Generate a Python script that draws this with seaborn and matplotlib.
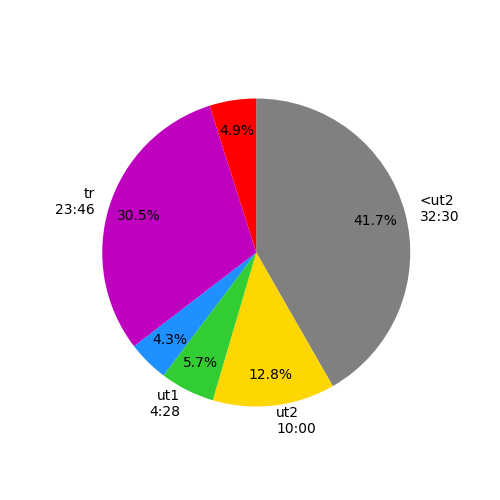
import seaborn as sns
import matplotlib
matplotlib.use("Agg")
import matplotlib.pyplot as plt

# seconds spent in each zone
zones = ["<ut2", "ut2", "ut1", "", "tr", ""]
times = ["32:30", "10:00", "4:28", "", "23:46", ""]
seconds = [1950, 600, 268, 201, 1426, 229]
colors = ["gray", "gold", "limegreen", "dodgerblue", "m", "red"]

labels = [f"{z}\n{t}" if z else "" for z, t in zip(zones, times)]

plt.figure(figsize=(5, 5), dpi=100)
plt.pie(seconds, labels=labels, colors=colors, autopct="%1.1f%%",
        startangle=90, counterclock=False, pctdistance=0.8)
plt.savefig("out.png")
